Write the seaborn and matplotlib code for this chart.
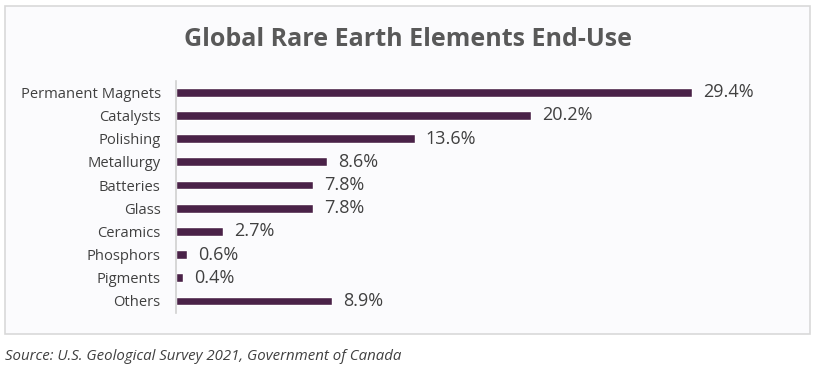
import matplotlib
matplotlib.use("Agg")
import matplotlib.pyplot as plt
import seaborn as sns
import pandas as pd
from matplotlib.patches import Rectangle

categories = ["Permanent Magnets", "Catalysts", "Polishing", "Metallurgy", "Batteries",
              "Glass", "Ceramics", "Phosphors", "Pigments", "Others"]
shares = [29.4, 20.2, 13.6, 8.6, 7.8, 7.8, 2.7, 0.6, 0.4, 8.9]
title = "Global Rare Earth Elements End-Use"
source = "Source: U.S. Geological Survey 2021, Government of Canada"

df = pd.DataFrame({"category": categories, "share": shares})

sns.set_theme(style="white")
plt.rcParams['font.family'] = ['Open Sans', 'DejaVu Sans']

bar_color = "#4a2248"
text_color = "#404040"

fig = plt.figure(figsize=(8.17, 3.68), dpi=100)
fig.patch.set_facecolor("white")

# bordered panel behind the chart
panel = Rectangle((5 / 817, 1 - 334 / 368), 805 / 817, 328 / 368, transform=fig.transFigure,
                  facecolor="#fbfbfd", edgecolor="#d9d9d9", linewidth=1.2, zorder=-10)
fig.patches.append(panel)

ax = fig.add_axes([176 / 817, 1 - 312.6 / 368, 604 / 817, 232 / 368])
ax.set_facecolor("none")
ax.set_zorder(1)

sns.barplot(data=df, x="share", y="category", orient="h", color=bar_color,
            width=0.38, saturation=1, ax=ax)

ax.bar_label(ax.containers[0], labels=[f"{v:.1f}%" for v in shares], padding=8,
             fontsize=13, color=text_color)

ax.set_xlim(0, 34.4)
ax.set_xlabel("")
ax.set_ylabel("")
ax.set_xticks([])
ax.tick_params(axis="y", length=0, pad=11, labelsize=10.6, labelcolor=text_color)
for s in ["top", "right", "bottom"]:
    ax.spines[s].set_visible(False)
ax.spines["left"].set_color("#d0d0d0")
ax.spines["left"].set_linewidth(1.2)

fig.text(408 / 817, 1 - 40 / 368, title, ha="center", va="center", fontsize=18,
         fontweight="bold", color="#595959")
fig.text(5 / 817, 1 - 357 / 368, source, ha="left", va="center", fontsize=10.8,
         style="italic", color=text_color)

fig.savefig("out.png", dpi=100, facecolor=fig.get_facecolor())
